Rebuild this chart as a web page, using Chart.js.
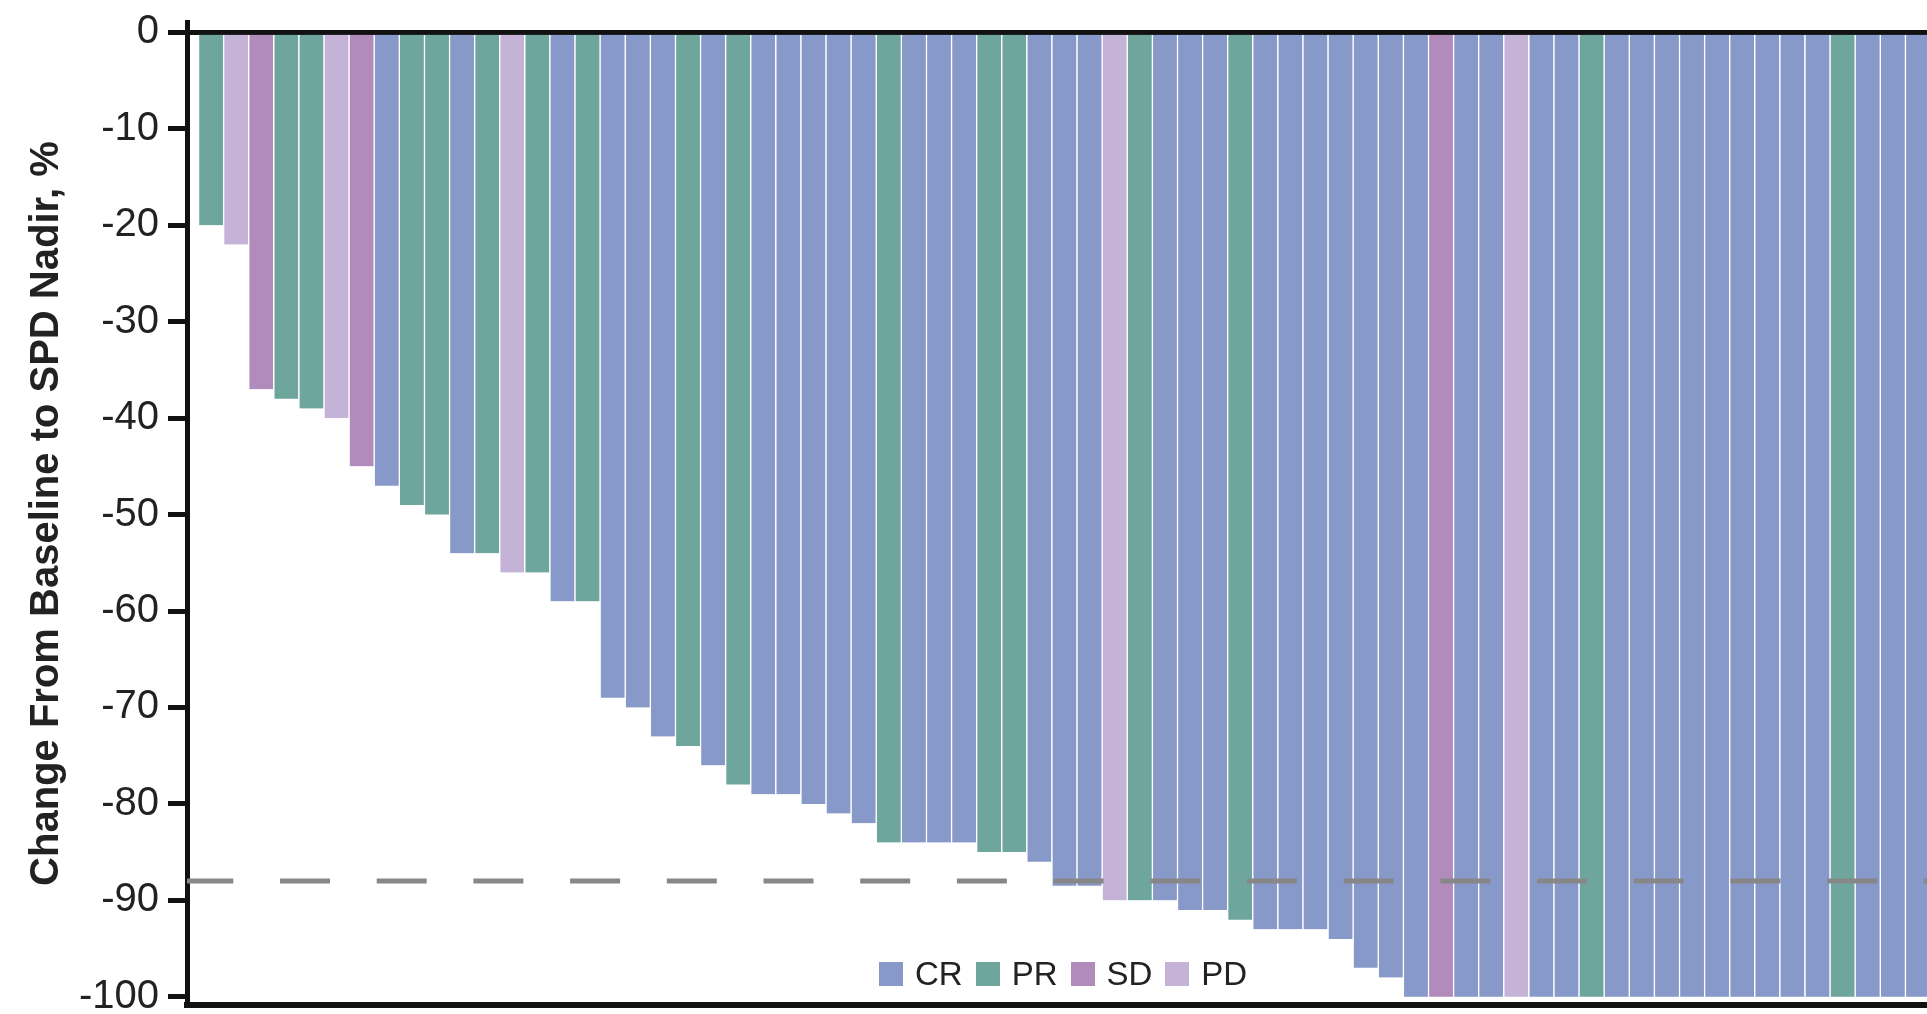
<!DOCTYPE html>
<html>
<head>
<meta charset="utf-8">
<script src="https://cdn.jsdelivr.net/npm/chart.js@4.4.1/dist/chart.umd.min.js"></script>
<style>
  html, body { margin: 0; padding: 0; background: #fff; }
  #wrap { position: relative; width: 1927px; height: 1014px; }
  #legend {
    position: absolute; left: 879px; top: 956px; height: 36px;
    display: flex; align-items: center;
    font-family: 'Liberation Sans', Arial, sans-serif; font-size: 33px; line-height: 36px; color: #222;
  }
  #legend .item { display: flex; align-items: center; margin-right: 13px; }
  #legend .swatch { width: 24px; height: 24px; margin-right: 12px; }
</style>
</head>
<body>
<div id="wrap">
  <canvas id="waterfall" width="1927" height="1014"></canvas>
  <div id="legend"></div>
</div>
<script>
// best % change in SPD per patient, sorted
const changes = [
  -20, -22, -37, -38, -39, -40, -45, -47, -49, -50,
  -54, -54, -56, -56, -59, -59, -69, -70, -73, -74,
  -76, -78, -79, -79, -80, -81, -82, -84, -84, -84,
  -84, -85, -85, -86, -88.5, -88.5, -90, -90, -90, -91,
  -91, -92, -93, -93, -93, -94, -97, -98, -100, -100,
  -100, -100, -100, -100, -100, -100, -100, -100, -100, -100,
  -100, -100, -100, -100, -100, -100, -100, -100, -100
];
const responses = [
  'PR', 'PD', 'SD', 'PR', 'PR', 'PD', 'SD', 'CR', 'PR', 'PR',
  'CR', 'PR', 'PD', 'PR', 'CR', 'PR', 'CR', 'CR', 'CR', 'PR',
  'CR', 'PR', 'CR', 'CR', 'CR', 'CR', 'CR', 'PR', 'CR', 'CR',
  'CR', 'PR', 'PR', 'CR', 'CR', 'CR', 'PD', 'PR', 'CR', 'CR',
  'CR', 'PR', 'CR', 'CR', 'CR', 'CR', 'CR', 'CR', 'CR', 'SD',
  'CR', 'CR', 'PD', 'CR', 'CR', 'PR', 'CR', 'CR', 'CR', 'CR',
  'CR', 'CR', 'CR', 'CR', 'CR', 'PR', 'CR', 'CR', 'CR'
];
const patients = changes.map((_, i) => i + 1);

const responseTypes = ['CR', 'PR', 'SD', 'PD'];
const responseColors = ['#8799c8', '#6ea69e', '#b28bbd', '#c4b3d7'];

const yTickLabels = ['0', '-10', '-20', '-30', '-40', '-50', '-60', '-70', '-80', '-90', '-100'];
const thresholdLine = -88;

// dashed reference line over the bars
const thresholdPlugin = {
  id: 'threshold',
  afterDatasetsDraw(chart) {
    const { ctx, chartArea, scales } = chart;
    const y = scales.y.getPixelForValue(thresholdLine);
    ctx.save();
    ctx.strokeStyle = '#878787';
    ctx.lineWidth = 5;
    ctx.setLineDash([50, 46.7]);
    ctx.lineDashOffset = 3.7;
    ctx.beginPath();
    ctx.moveTo(chartArea.left, y);
    ctx.lineTo(chartArea.right, y);
    ctx.stroke();
    ctx.restore();
  }
};

const barColors = responses.map(r => responseColors[responseTypes.indexOf(r)]);

new Chart(document.getElementById('waterfall'), {
  type: 'bar',
  data: {
    datasets: [{
      data: patients.map((p, i) => ({ x: p, y: changes[i] })),
      backgroundColor: barColors,
      borderColor: 'rgba(255, 255, 255, 0.9)',
      borderWidth: { left: 1.5, right: 0, top: 0, bottom: 0 },
      borderSkipped: false,
      barPercentage: 1,
      categoryPercentage: 1
    }]
  },
  options: {
    responsive: false,
    animation: false,
    devicePixelRatio: 1,
    events: [],
    layout: { padding: { top: 22.7, left: 0, right: 0, bottom: 0 } },
    plugins: {
      legend: { display: false },
      tooltip: { enabled: false }
    },
    scales: {
      x: {
        type: 'linear',
        min: 0.06,
        max: 69.38,
        offset: false,
        afterBuildTicks: s => { s.ticks = [{ value: s.min }]; },
        afterFit: s => { s.height = 9.5; s.paddingLeft = 0; s.paddingRight = 0; },
        ticks: { display: false },
        grid: { display: false, offset: false, drawTicks: false },
        border: { color: '#111', width: 6 }
      },
      y: {
        min: -100.8,
        max: 1,
        z: 1,
        afterBuildTicks: s => { s.ticks = yTickLabels.map(t => ({ value: Number(t) })); },
        afterFit: s => { s.width = 187; s.paddingTop = 0; s.paddingBottom = 0; },
        ticks: {
          autoSkip: false,
          callback: (v, i) => yTickLabels[i],
          font: { family: 'Liberation Sans', size: 40 },
          color: '#222',
          padding: 9
        },
        grid: {
          color: c => (c.tick && c.tick.value === 0) ? '#111' : 'rgba(0,0,0,0)',
          lineWidth: 5,
          tickLength: 19,
          tickColor: '#111',
          tickWidth: 5
        },
        border: { color: '#111', width: 5 },
        title: {
          display: true,
          text: 'Change From Baseline to SPD Nadir, %',
          font: { family: 'Liberation Sans', size: 40, weight: 'bold' },
          color: '#222',
          padding: { top: 23, bottom: 0 }
        }
      }
    }
  },
  plugins: [thresholdPlugin]
});

// legend inside the plot, below the bars
const legendEl = document.getElementById('legend');
responseTypes.forEach((t, i) => {
  const item = document.createElement('div');
  item.className = 'item';
  const sw = document.createElement('span');
  sw.className = 'swatch';
  sw.style.background = responseColors[i];
  const label = document.createElement('span');
  label.textContent = t;
  item.appendChild(sw);
  item.appendChild(label);
  legendEl.appendChild(item);
});
</script>
</body>
</html>
